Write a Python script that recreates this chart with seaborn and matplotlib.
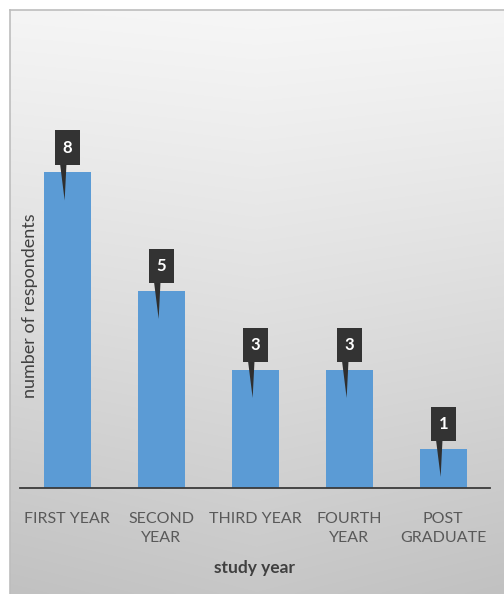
import numpy as np
import pandas as pd
import matplotlib
matplotlib.use("Agg")
import matplotlib.pyplot as plt
from matplotlib.patches import Rectangle, Polygon
import seaborn as sns

# Respondents per study year
categories = ["FIRST YEAR", "SECOND\nYEAR", "THIRD YEAR", "FOURTH\nYEAR", "POST\nGRADUATE"]
respondents = [8, 5, 3, 3, 1]

df = pd.DataFrame({"study year": categories, "respondents": respondents})

sns.set_theme(style="white")
plt.rcParams["font.family"] = ["Lato", "DejaVu Sans"]

W, H = 504, 594
fig = plt.figure(figsize=(W / 100, H / 100), dpi=100)
fig.patch.set_facecolor("white")

# soft grey gradient panel with a thin frame on top and left
bg = fig.add_axes([10 / W, 0, (W - 10) / W, (H - 10) / H], zorder=-10)
yy, xx = np.mgrid[0:1:300j, 0:1:300j]
shade = 0.965 - 0.185 * yy ** 1.1 - 0.035 * np.abs(xx - 0.5) * (0.3 + yy)
bg.imshow(np.dstack([shade, shade, shade]), extent=[0, 1, 0, 1], aspect="auto",
          origin="upper", interpolation="bilinear")
bg.set_xlim(0, 1)
bg.set_ylim(0, 1)
bg.set_xticks([])
bg.set_yticks([])
for side in ["right", "bottom"]:
    bg.spines[side].set_visible(False)
for side in ["top", "left"]:
    bg.spines[side].set_color("#bdbdbd")
    bg.spines[side].set_linewidth(1.2)

ax = fig.add_axes([20 / W, 106 / H, 470 / W, 474 / H])
ax.patch.set_alpha(0)

sns.barplot(data=df, x="study year", y="respondents", color="#5b9bd5",
            width=0.5, saturation=1, linewidth=0, ax=ax)

ax.set_xlim(-0.5, len(categories) - 0.5)
ax.set_ylim(0, 12)

for side in ["top", "right", "left"]:
    ax.spines[side].set_visible(False)
ax.spines["bottom"].set_color("#3a3a3a")
ax.spines["bottom"].set_linewidth(1.3)
ax.set_yticks([])

ax.set_xticks(range(len(categories)))
ax.set_xticklabels(categories, fontsize=11.5, color="#595959", linespacing=1.5)
ax.tick_params(axis="x", which="major", length=0, pad=17)
ax.set_xticks(np.arange(-0.5, len(categories), 1.0), minor=True)
ax.tick_params(axis="x", which="minor", length=4, width=1.3, color="#3a3a3a", direction="out")

ax.set_xlabel("study year", fontsize=12.5, fontweight="bold", color="#404040", labelpad=11)
ax.set_ylabel("number of respondents", fontsize=13, color="#404040")
ax.yaxis.set_label_coords(0.038, 0.385)

# dark callout labels with a thin pointer into each bar
box_w, box_h = 0.27, 0.88
for i, v in enumerate(respondents):
    cx, cy = i + 0.005, v + 0.62
    bottom = cy - box_h / 2
    ax.add_patch(Polygon([(cx - 0.08, bottom + 0.05), (cx - 0.01, bottom + 0.05),
                          (cx - 0.03, v - 0.72)], closed=True,
                         fc="#2f2f2f", ec="none", zorder=4))
    ax.add_patch(Rectangle((cx - box_w / 2, bottom), box_w, box_h,
                           fc="#333333", ec="none", zorder=5))
    ax.text(cx, cy, str(v), ha="center", va="center", fontsize=12,
            fontweight="bold", color="white", zorder=6)

fig.savefig("out.png", dpi=100)
